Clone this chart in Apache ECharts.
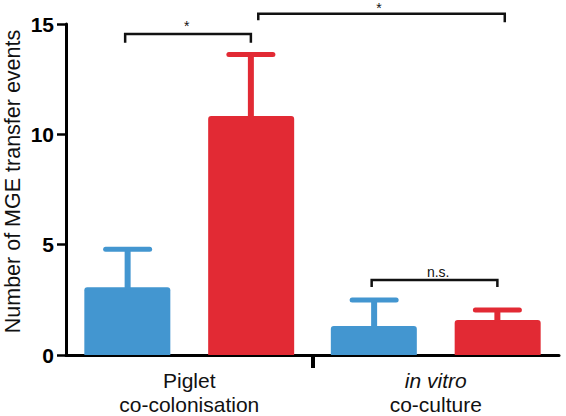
<!DOCTYPE html>
<html>
<head>
<meta charset="utf-8">
<script src="https://cdn.jsdelivr.net/npm/echarts@6/dist/echarts.min.js"></script>
<style>
html,body{margin:0;padding:0;background:#fff;}
#chart{width:566px;height:416px;}
</style>
</head>
<body>
<div id="chart"></div>
<script>
// ---- data ----
const categories = ['Piglet\nco-colonisation', '{i|in vitro}\nco-culture'];
const blueMeans = [3.07, 1.31];
const blueUpper = [4.79, 2.49];
const redMeans = [10.83, 1.59];
const redUpper = [13.62, 2.04];
const yTicks = [0, 5, 10, 15];
// brackets: [xStart, xEnd, yTop, yLeftEnd, yRightEnd] on a 0..2 position scale
const brackets = [
  [0.24, 0.75, 14.55, 14.15, 14.15],
  [0.78, 1.78, 15.47, 15.17, 15.08],
  [1.24, 1.75, 3.40, 3.08, 3.08]
];
const bracketLabels = [
  [0.49, 14.90, '*'],
  [1.27, 15.74, '*'],
  [1.51, 3.74, 'n.s.']
];

const BLUE = '#4396D0';
const RED = '#E22A34';
const FONT = '"Liberation Sans", Arial, Helvetica, sans-serif';

const chart = echarts.init(document.getElementById('chart'), null, {renderer: 'svg'});

function errorRenderer(color, side) {
  return function (params, api) {
    const x = api.value(0);
    const mean = api.value(1);
    const hi = api.value(2);
    const band = api.size([1, 0])[0];
    const pMean = api.coord([x, mean]);
    const pHi = api.coord([x, hi]);
    const cx = pMean[0] + side * band * 0.25;
    return {
      type: 'group',
      children: [
        {type: 'line', shape: {x1: cx, y1: pMean[1] + 2, x2: cx, y2: pHi[1]},
         style: {stroke: color, lineWidth: 6}},
        {type: 'line', shape: {x1: cx - 22, y1: pHi[1], x2: cx + 22, y2: pHi[1]},
         style: {stroke: color, lineWidth: 5, lineCap: 'round'}}
      ]
    };
  };
}

const option = {
  animation: false,
  backgroundColor: '#fff',
  grid: {left: 66, right: 7, top: 24, bottom: 61, containLabel: false, outerBoundsMode: 'none'},
  xAxis: [
    {
      type: 'category',
      data: categories,
      axisLine: {lineStyle: {color: '#000', width: 3}},
      axisTick: {show: false},
      axisLabel: {
        color: '#111', fontSize: 21, fontFamily: FONT, lineHeight: 24, margin: 13,
        rich: {i: {fontStyle: 'italic', fontSize: 21, fontFamily: FONT, color: '#111', lineHeight: 24}}
      }
    },
    {
      type: 'value', min: 0, max: 2, position: 'bottom',
      axisLine: {show: false},
      axisTick: {show: true, customValues: [1], length: 13, lineStyle: {color: '#000', width: 4}},
      axisLabel: {show: false},
      splitLine: {show: false}
    }
  ],
  yAxis: {
    type: 'value', min: 0, max: 15, interval: 5,
    name: 'Number of MGE transfer events',
    nameLocation: 'middle', nameGap: 41, nameMoveOverlap: false,
    nameTextStyle: {fontSize: 21.5, lineHeight: 24, fontFamily: FONT, color: '#111', padding: [0, 0, 0, 16]},
    axisLine: {show: true, lineStyle: {color: '#000', width: 3}},
    axisTick: {show: true, length: 9, lineStyle: {color: '#000', width: 2.5}},
    axisLabel: {
      fontSize: 21, fontWeight: 'bold', fontFamily: FONT, color: '#000', margin: 12,
      customValues: yTicks
    },
    splitLine: {show: false}
  },
  series: [
    {
      type: 'bar', name: 'blue', data: blueMeans, barWidth: 86, barGap: '44%',
      itemStyle: {color: BLUE, borderRadius: [3, 3, 0, 0]}, z: 2
    },
    {
      type: 'bar', name: 'red', data: redMeans, barWidth: 86, barGap: '44%',
      itemStyle: {color: RED, borderRadius: [3, 3, 0, 0]}, z: 2
    },
    {
      type: 'custom', name: 'blueErr', xAxisIndex: 0, clip: false, z: 3,
      data: blueMeans.map((m, i) => [i, m, blueUpper[i]]),
      renderItem: errorRenderer(BLUE, -1)
    },
    {
      type: 'custom', name: 'redErr', xAxisIndex: 0, clip: false, z: 3,
      data: redMeans.map((m, i) => [i, m, redUpper[i]]),
      renderItem: errorRenderer(RED, 1)
    },
    {
      type: 'custom', name: 'brackets', xAxisIndex: 1, clip: false, z: 4,
      data: brackets,
      renderItem: function (params, api) {
        const a = api.coord([api.value(0), api.value(2)]);
        const b = api.coord([api.value(1), api.value(2)]);
        const la = api.coord([api.value(0), api.value(3)]);
        const rb = api.coord([api.value(1), api.value(4)]);
        return {
          type: 'polyline',
          shape: {points: [[la[0], la[1]], a, b, [rb[0], rb[1]]]},
          style: {stroke: '#111', lineWidth: 2.5, fill: null}
        };
      }
    },
    {
      type: 'custom', name: 'bracketText', xAxisIndex: 1, clip: false, z: 4,
      data: bracketLabels,
      renderItem: function (params, api) {
        const p = api.coord([api.value(0), api.value(1)]);
        const txt = bracketLabels[params.dataIndex][2];
        return {
          type: 'text', x: p[0], y: p[1],
          style: {text: txt, fontSize: 14, fontFamily: FONT, fill: '#111', align: 'center', verticalAlign: 'middle'}
        };
      }
    }
  ]
};
chart.setOption(option);
</script>
</body>
</html>
